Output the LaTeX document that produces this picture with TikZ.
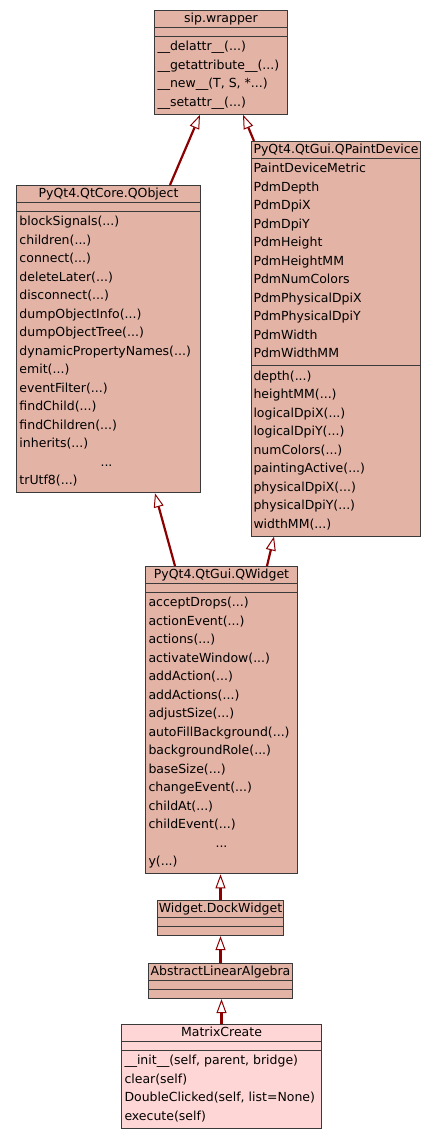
\documentclass[tikz,border=0pt]{standalone}
\usepackage{fontspec}
\setmainfont{DejaVu Sans}
\usepackage{xcolor}
\usepackage{tikz}
\usetikzlibrary{arrows.meta,shapes.multipart}
\definecolor{classfill}{HTML}{E3B3A6}
\definecolor{ownfill}{HTML}{FFD6D6}
\definecolor{classline}{HTML}{3A3A3A}
\definecolor{inhline}{HTML}{8B0000}
\newcommand{\tstrut}{\rule[-2.4pt]{0pt}{9.6pt}}
\newcommand{\ftop}{\rule{0pt}{11.7pt}}
\newcommand{\fbot}{\rule[-5.5pt]{0pt}{5.5pt}}
\newcommand{\nofields}{\rule{0pt}{4pt}}
\tikzset{
  cls/.style={rectangle split, rectangle split parts=3, draw=classline, line width=1pt,
              fill=classfill, anchor=north west, align=left, inner xsep=3pt, inner ysep=2pt,
              rectangle split part align={center,left,left},
              font=\fontsize{12.5}{18.5}\selectfont, text=black},
  owncls/.style={cls, fill=ownfill},
  inh/.style={-{Triangle[length=14pt,width=10pt,line width=1pt,fill=white]},
              line width=2.2pt, inhline},
}

\begin{document}
\begin{tikzpicture}[x=1pt,y=-1pt]
  \useasboundingbox (0,0) rectangle (437,1136);

  \node[cls, minimum width=133pt] (sip) at (154,10)
    {\tstrut sip.wrapper
     \nodepart{two}\nofields
     \nodepart{three}\ftop\_\_delattr\_\_(...)\\ \_\_getattribute\_\_(...)\\
     \_\_new\_\_(T, S, *...)\\ \_\_setattr\_\_(...)\fbot};

  \node[cls, minimum width=184pt] (qobject) at (16,185)
    {\tstrut PyQt4.QtCore.QObject
     \nodepart{two}\nofields
     \nodepart{three}\ftop blockSignals(...)\\ children(...)\\ connect(...)\\
     deleteLater(...)\\ disconnect(...)\\ dumpObjectInfo(...)\\ dumpObjectTree(...)\\
     dynamicPropertyNames(...)\\ emit(...)\\ eventFilter(...)\\ findChild(...)\\
     findChildren(...)\\ inherits(...)\\ \makebox[174pt][c]{...}\\ trUtf8(...)\fbot};

  \node[cls, minimum width=169pt, inner xsep=2pt] (qpaint) at (251,141)
    {\tstrut PyQt4.QtGui.QPaintDevice
     \nodepart{two}\ftop PaintDeviceMetric\\ PdmDepth\\ PdmDpiX\\ PdmDpiY\\ PdmHeight\\
     PdmHeightMM\\ PdmNumColors\\ PdmPhysicalDpiX\\ PdmPhysicalDpiY\\ PdmWidth\\
     PdmWidthMM\fbot
     \nodepart{three}\ftop depth(...)\\ heightMM(...)\\ logicalDpiX(...)\\ logicalDpiY(...)\\
     numColors(...)\\ paintingActive(...)\\ physicalDpiX(...)\\ physicalDpiY(...)\\
     widthMM(...)\fbot};

  \node[cls, minimum width=152pt] (qwidget) at (145,566)
    {\tstrut PyQt4.QtGui.QWidget
     \nodepart{two}\nofields
     \nodepart{three}\ftop acceptDrops(...)\\ actionEvent(...)\\ actions(...)\\
     activateWindow(...)\\ addAction(...)\\ addActions(...)\\ adjustSize(...)\\
     autoFillBackground(...)\\ backgroundRole(...)\\ baseSize(...)\\ changeEvent(...)\\
     childAt(...)\\ childEvent(...)\\ \makebox[146pt][c]{...}\\ y(...)\fbot};

  \node[cls, minimum width=126pt, inner xsep=1pt] (dock) at (157,900)
    {\tstrut Widget.DockWidget
     \nodepart{two}\nofields
     \nodepart{three}\nofields};

  \node[cls, minimum width=144pt, inner xsep=1pt] (linalg) at (148,963)
    {\tstrut AbstractLinearAlgebra
     \nodepart{two}\nofields
     \nodepart{three}\nofields};

  \node[owncls, minimum width=200pt] (matrix) at (121,1024)
    {\tstrut MatrixCreate
     \nodepart{two}\nofields
     \nodepart{three}\ftop\_\_init\_\_(self, parent, bridge)\\ clear(self)\\
     DoubleClicked(self, list=None)\\ execute(self)\fbot};

  \draw[inh] ([xshift=61.5pt]qobject.north) -- ([xshift=-21pt]sip.south);
  \draw[inh] ([xshift=3pt]qpaint.north west) -- ([xshift=22pt]sip.south);
  \draw[inh] ([xshift=-46.5pt]qwidget.north) -- ([xshift=46.5pt]qobject.south);
  \draw[inh] ([xshift=45.5pt]qwidget.north) -- ([xshift=-62pt]qpaint.south);
  \draw[inh] (dock.north) -- (dock.north |- qwidget.south);
  \draw[inh] (linalg.north) -- (linalg.north |- dock.south);
  \draw[inh] (matrix.north) -- (matrix.north |- linalg.south);

\end{tikzpicture}
\end{document}
